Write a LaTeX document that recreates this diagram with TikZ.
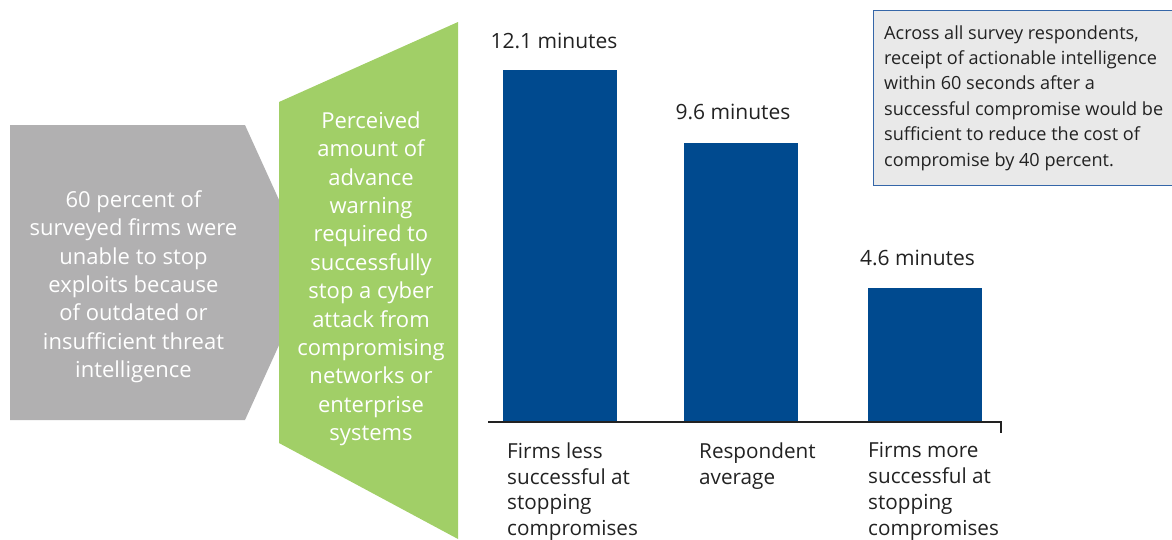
\documentclass[tikz,border=0pt]{standalone}
\usepackage{fontspec}
\setmainfont{Open Sans}
\usepackage{xcolor}
\definecolor{barblue}{HTML}{004A8F}
\definecolor{leftgray}{HTML}{B1B0B1}
\definecolor{midgreen}{HTML}{A1CF67}
\definecolor{notefill}{HTML}{E9E9E9}
\definecolor{noteline}{HTML}{3566A8}
\definecolor{labelgray}{HTML}{222222}

\begin{document}
\begin{tikzpicture}[x=1pt,y=-1pt]
        \tikzstyle{every node}+=[inner sep=0pt]
        \tikzstyle{shapetext}=[white, align=center, anchor=north, font=\fontsize{22}{28.4}\selectfont]
        \tikzstyle{valuetext}=[labelgray, anchor=base, font=\fontsize{21}{25}\selectfont]
        \tikzstyle{cattext}=[labelgray, align=left, anchor=north west, font=\fontsize{20.7}{25.8}\selectfont]
        \useasboundingbox (0,0) rectangle (1172,539);
        % shapes on the left
        \fill [leftgray] (10,125) -- (245,125) -- (312,272.5) -- (245,420) -- (10,420) -- cycle;
        \fill [midgreen] (279,102) -- (458,22) -- (458,539) -- (279,443) -- cycle;
        \node [shapetext] (firms) at (133.5,190.3) {60 percent of\\surveyed firms were\\unable to stop\\exploits because\\of outdated or\\insufficient threat\\intelligence};
        \node [shapetext] (warning) at (371,111.3) {Perceived\\amount of\\advance\\warning\\required to\\successfully\\stop a cyber\\attack from\\compromising\\networks or\\enterprise\\systems};
        % bars
        \fill [barblue] (503,70) rectangle (617,422);
        \fill [barblue] (684,143) rectangle (798,422);
        \fill [barblue] (868,288) rectangle (982,422);
        \draw [labelgray, line width=1.4pt] (488,422) -- (1001,422) -- (1001,433);
        \node [valuetext] (less) at (554,48) {12.1 minutes};
        \node [valuetext] (avg) at (733,119) {9.6 minutes};
        \node [valuetext] (more) at (917.5,265) {4.6 minutes};
        \node [cattext] (lesslabel) at (507,442.3) {Firms less\\successful at\\stopping\\compromises};
        \node [cattext] (avglabel) at (699,442.3) {Respondent\\average};
        \node [cattext] (morelabel) at (868,442.3) {Firms more\\successful at\\stopping\\compromises};
        % note box
        \draw [noteline, fill=notefill, line width=0.9pt] (1180,10.5) -- (873,10.5) -- (873,185) -- (1180,185);
        \node [labelgray, align=left, anchor=north west, font=\fontsize{18.1}{25.4}\selectfont] (note) at (884,25.2) {Across all survey respondents,\\receipt of actionable intelligence\\within 60 seconds after a\\successful compromise would be\\sufficient to reduce the cost of\\compromise by 40 percent.};
        \end{tikzpicture}
\end{document}
